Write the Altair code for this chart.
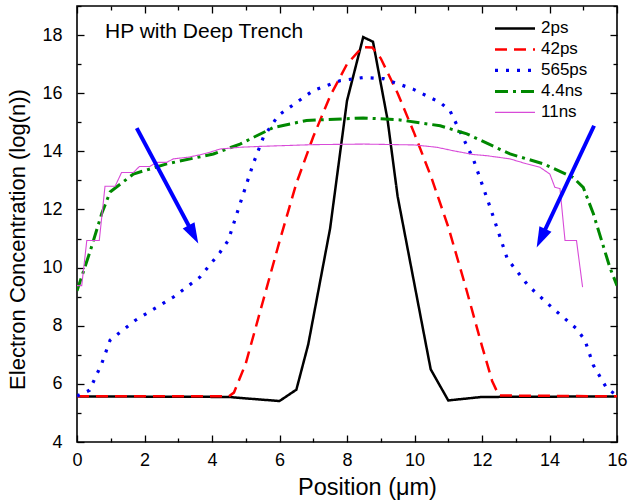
import math
import altair as alt
import pandas as pd

# ---------------- data ----------------
series_names = ["2ps", "42ps", "565ps", "4.4ns", "11ns"]

x_2ps = [0, 4.5, 5.0, 6.0, 6.5, 6.85, 7.5, 8.0, 8.48, 8.77, 9.2, 9.5, 10.48, 11.0, 12.0, 16]
y_2ps = [5.57, 5.55, 5.5, 5.41, 5.8, 7.35, 11.35, 15.74, 17.93, 17.77, 15.1, 12.45, 6.5, 5.43, 5.55, 5.57]

x_42ps = [0, 4.5, 4.65, 5.0, 5.5, 6.0, 6.5, 7.0, 7.5, 8.0, 8.45, 8.75, 9.0, 9.5, 10.0, 10.5, 11.0, 11.5, 12.0, 12.3, 12.5, 16]
y_42ps = [5.57, 5.57, 5.7, 6.7, 8.8, 10.9, 12.9, 14.5, 15.9, 17.0, 17.58, 17.57, 17.2, 16.0, 14.6, 13.1, 11.4, 9.4, 7.3, 6.1, 5.6, 5.57]

x_565ps = [0, 0.37, 0.73, 0.98, 1.72, 2.85, 3.64, 4.24, 4.48, 4.83, 5.22, 5.52, 5.96, 7.0, 7.79, 8.48, 9.08, 9.96, 10.76, 11.05, 11.74, 12.24, 12.75, 13.37, 14.06, 14.8, 15.05, 15.3, 15.7, 16]
y_565ps = [5.58, 5.78, 6.69, 7.5, 8.18, 8.98, 9.67, 10.53, 10.93, 12.19, 13.57, 14.48, 15.23, 16.09, 16.43, 16.54, 16.5, 16.14, 15.68, 15.4, 13.74, 12.08, 10.3, 9.38, 8.64, 7.9, 7.5, 6.64, 5.84, 5.6]

x_44ns = [0, 0.4, 0.73, 0.98, 1.67, 2.66, 4.04, 4.83, 5.82, 6.8, 8.48, 9.57, 10.76, 11.55, 12.83, 13.82, 14.7, 15.0, 15.3, 15.79, 16]
y_44ns = [9.2, 10.6, 11.85, 12.6, 13.22, 13.57, 13.91, 14.25, 14.82, 15.06, 15.15, 15.08, 14.88, 14.6, 13.91, 13.57, 13.1, 12.76, 11.85, 10.0, 9.38]

x_11ns = [0, 0.14, 0.29, 0.66, 0.83, 1.13, 1.32, 1.67, 1.85, 2.16, 2.36, 2.66, 2.85, 3.3, 3.64, 3.94, 4.24, 4.83, 5.42, 7.0, 8.5, 10.0, 10.66, 11.15, 11.74, 12.14, 12.83, 13.32, 13.72, 14.01, 14.16, 14.31, 14.46, 14.8, 14.98]
y_11ns = [9.38, 9.38, 10.93, 10.93, 12.8, 12.8, 13.27, 13.27, 13.48, 13.48, 13.62, 13.62, 13.74, 13.8, 13.88, 13.97, 14.08, 14.14, 14.17, 14.23, 14.25, 14.22, 14.14, 14.02, 13.89, 13.85, 13.74, 13.57, 13.45, 13.22, 12.76, 12.72, 10.93, 10.93, 9.33]

# arrows: tail, head centre, tip (data units)
arrow_tail_x = [1.77, 15.32]
arrow_tail_y = [14.8, 14.88]
arrow_tip_x = [3.59, 13.62]
arrow_tip_y = [10.84, 10.7]
arrow_head_x = [3.45, 13.75]
arrow_head_y = [11.14, 11.01]

title_text = ["HP with Deep Trench"]
title_x = [0.83]
title_y = [18.12]

x_major = [0, 2, 4, 6, 8, 10, 12, 14, 16]
x_minor = [1, 3, 5, 7, 9, 11, 13, 15]
y_major = [4, 6, 8, 10, 12, 14, 16, 18]
y_minor = [5, 7, 9, 11, 13, 15, 17, 19]

# ---------------- tables ----------------
rows = []
for name, xs_, ys_ in zip(series_names,
                          [x_2ps, x_42ps, x_565ps, x_44ns, x_11ns],
                          [y_2ps, y_42ps, y_565ps, y_44ns, y_11ns]):
    for i, (a, b) in enumerate(zip(xs_, ys_)):
        rows.append({"series": name, "x": a, "y": b, "i": i})
df = pd.DataFrame(rows)

W, H = 540, 436
X_DOM, Y_DOM = [0, 16], [4, 19]
pxx = W / (X_DOM[1] - X_DOM[0])
pxy = H / (Y_DOM[1] - Y_DOM[0])

arr_rows = []
for tx, ty, px_, py_, hx, hy in zip(arrow_tail_x, arrow_tail_y, arrow_tip_x, arrow_tip_y, arrow_head_x, arrow_head_y):
    dx = (px_ - tx) * pxx
    dy = -(py_ - ty) * pxy
    ang = math.degrees(math.atan2(-dx, dy)) % 360
    arr_rows.append({"tx": tx, "ty": ty, "hx": hx, "hy": hy, "angle": ang})
arr = pd.DataFrame(arr_rows)

tdf = pd.DataFrame({"t": title_text, "x": title_x, "y": title_y})

FONT = "Liberation Sans"
xs = alt.Scale(domain=X_DOM, nice=False, zero=False)
ys = alt.Scale(domain=Y_DOM, nice=False, zero=False)


def axis(orient, values, size, labels=False, **kw):
    return alt.Axis(orient=orient, values=values, tickSize=size, offset=-size,
                    domain=False, grid=False, labels=labels, ticks=True,
                    tickColor="black", tickWidth=1.3, **kw)


colors = ["#000000", "#FF0000", "#0000EE", "#008800", "#D84BD8"]
dashes = [[1, 0], [12, 7], [3, 8], [13, 5, 3, 5], [1, 0]]
widths = [2.5, 2.5, 3.2, 3.0, 1.1]

lines = alt.Chart(df).mark_line(clip=True).encode(
    x=alt.X("x:Q", scale=xs,
            axis=axis("bottom", x_major, 7, labels=True, title="Position (μm)",
                      labelPadding=9, titlePadding=6, labelFontSize=18,
                      titleFontSize=23.5, labelFont=FONT, titleFont=FONT,
                      labelFlush=False, titleX=290,
                      titleFontWeight="normal", labelColor="black", titleColor="black")),
    y=alt.Y("y:Q", scale=ys,
            axis=axis("left", y_major, 7, labels=True,
                      title="Electron Concentration (log(n))",
                      labelPadding=15, titlePadding=12, labelFontSize=18,
                      titleFontSize=22, labelFont=FONT, titleFont=FONT,
                      labelFlush=False, titleY=233,
                      titleFontWeight="normal", labelColor="black", titleColor="black")),
    color=alt.Color("series:N", sort=series_names,
                    scale=alt.Scale(domain=series_names, range=colors),
                    legend=alt.Legend(title=None)),
    strokeDash=alt.StrokeDash("series:N", sort=series_names,
                              scale=alt.Scale(domain=series_names, range=dashes),
                              legend=alt.Legend(title=None)),
    strokeWidth=alt.StrokeWidth("series:N", sort=series_names,
                                scale=alt.Scale(type="ordinal", domain=series_names, range=widths),
                                legend=alt.Legend(title=None)),
    order="i:Q",
    detail="series:N",
)


def ghost(xo, xv, xsz, yo, yv, ysz):
    return alt.Chart(df).mark_point(opacity=0).encode(
        x=alt.X("x:Q", scale=xs, axis=axis(xo, xv, xsz, title=None)),
        y=alt.Y("y:Q", scale=ys, axis=axis(yo, yv, ysz, title=None)),
    )


g1 = ghost("bottom", x_minor, 4, "left", y_minor, 4)
g2 = ghost("top", x_major, 7, "right", y_major, 7)
g3 = ghost("top", x_minor, 4, "right", y_minor, 4)

shafts = alt.Chart(arr).mark_rule(color="#0000FF", strokeWidth=4).encode(
    x=alt.X("tx:Q", scale=xs, axis=None),
    y=alt.Y("ty:Q", scale=ys, axis=None),
    x2="hx:Q", y2="hy:Q",
)
heads = alt.Chart(arr).mark_point(
    shape="M0,1L-0.65,-1L0.65,-1Z", filled=True, size=420,
    color="#0000FF", opacity=1, strokeWidth=0,
).encode(
    x=alt.X("hx:Q", scale=xs, axis=None),
    y=alt.Y("hy:Q", scale=ys, axis=None),
    angle=alt.Angle("angle:Q", scale=None),
)

title = alt.Chart(tdf).mark_text(align="left", baseline="middle", fontSize=21,
                                 font=FONT, color="black").encode(
    x=alt.X("x:Q", scale=xs, axis=None),
    y=alt.Y("y:Q", scale=ys, axis=None),
    text="t:N",
)

chart = alt.layer(lines, g1, g2, g3, shafts, heads, title).resolve_axis(
    x="independent", y="independent"
).properties(
    width=W, height=H,
    autosize="none",
    padding={"left": 77, "top": 6, "right": 12, "bottom": 60},
    background="white",
).configure_view(
    stroke="black", strokeWidth=1.6
).configure_legend(
    orient="none", legendX=416, legendY=12, padding=0,
    symbolType="stroke", symbolSize=1600, clipHeight=20.8, rowPadding=0,
    labelFontSize=17, labelFont=FONT, labelColor="black", labelOffset=4,
    symbolStrokeColor="black",
)

chart.save("out.html", embed_options={"renderer": "svg", "actions": False})
